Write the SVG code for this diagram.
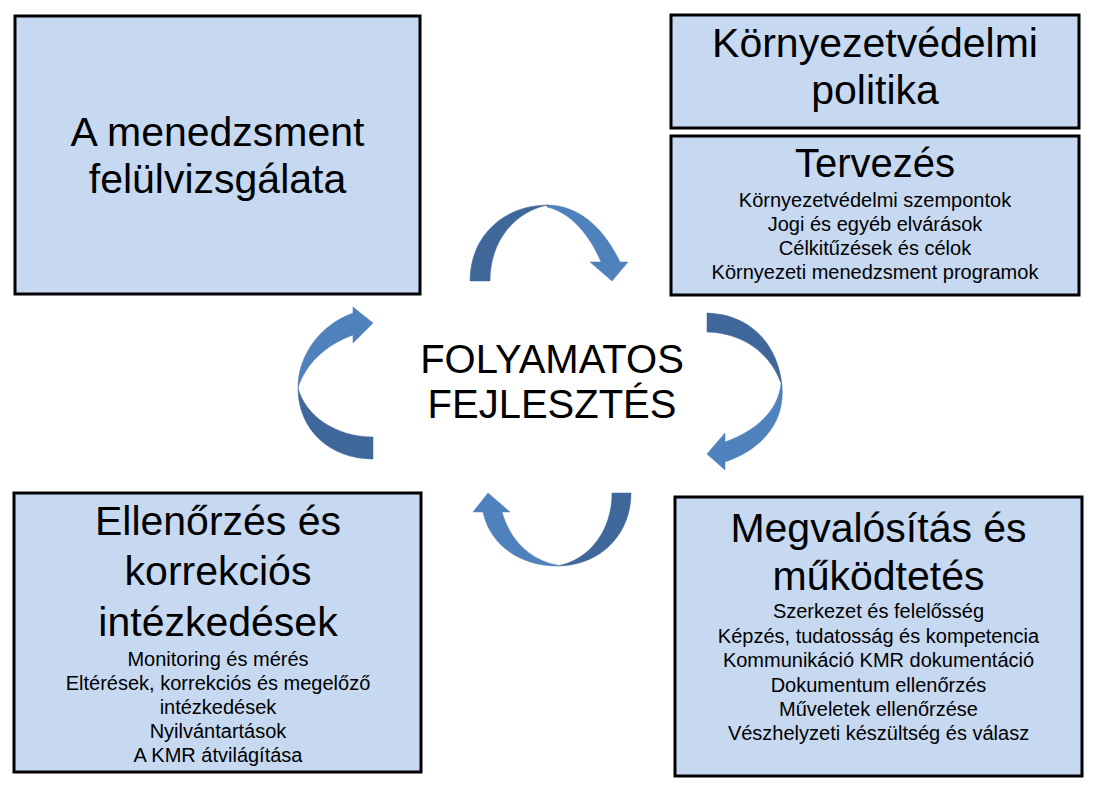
<svg xmlns="http://www.w3.org/2000/svg" width="1098" height="791" viewBox="0 0 1098 791">
<style>
.box{fill:#c6d9f1;stroke:#000;stroke-width:3}
.big{font-family:"Liberation Sans",Arial,sans-serif;font-size:41px;fill:#000;text-anchor:middle}
.sm{font-family:"Liberation Sans",Arial,sans-serif;font-size:20px;fill:#000;text-anchor:middle}
.dk{fill:#3f679a;stroke:#3f679a;stroke-width:0.5}
.lt{fill:#4f81bd;stroke:#4a7ab3;stroke-width:0.5}
</style>
<rect width="1098" height="791" fill="#fff"/>
<g id="review">
<rect class="box" x="15" y="16" width="405" height="278"/>
<text class="big" x="217.5" y="146">A menedzsment</text>
<text class="big" x="217.5" y="193">felülvizsgálata</text>
</g>
<g id="policy">
<rect class="box" x="671" y="15" width="408" height="113"/>
<text class="big" x="875" y="57">Környezetvédelmi</text>
<text class="big" x="875" y="104">politika</text>
</g>
<g id="planning">
<rect class="box" x="671" y="136" width="408" height="159"/>
<text class="big" x="875" y="177" style="font-size:40px">Tervezés</text>
<text class="sm" x="875" y="207">Környezetvédelmi szempontok</text>
<text class="sm" x="875" y="231">Jogi és egyéb elvárások</text>
<text class="sm" x="875" y="255">Célkitűzések és célok</text>
<text class="sm" x="875" y="279">Környezeti menedzsment programok</text>
</g>
<g id="checking">
<rect class="box" x="14" y="493" width="407" height="279"/>
<text class="big" x="218" y="535">Ellenőrzés és</text>
<text class="big" x="218" y="585">korrekciós</text>
<text class="big" x="218" y="636">intézkedések</text>
<text class="sm" x="218" y="666">Monitoring és mérés</text>
<text class="sm" x="218" y="690">Eltérések, korrekciós és megelőző</text>
<text class="sm" x="218" y="714">intézkedések</text>
<text class="sm" x="218" y="738">Nyilvántartások</text>
<text class="sm" x="218" y="762">A KMR átvilágítása</text>
</g>
<g id="implementation">
<rect class="box" x="675" y="497" width="407" height="279"/>
<text class="big" x="878.5" y="542">Megvalósítás és</text>
<text class="big" x="878.5" y="590">működtetés</text>
<text class="sm" x="878.5" y="618">Szerkezet és felelősség</text>
<text class="sm" x="878.5" y="643">Képzés, tudatosság és kompetencia</text>
<text class="sm" x="878.5" y="667">Kommunikáció KMR dokumentáció</text>
<text class="sm" x="878.5" y="692">Dokumentum ellenőrzés</text>
<text class="sm" x="878.5" y="716">Műveletek ellenőrzése</text>
<text class="sm" x="878.5" y="740">Vészhelyzeti készültség és válasz</text>
</g>
<g id="center">
<text class="big" x="552" y="373" style="font-size:40px">FOLYAMATOS</text>
<text class="big" x="552" y="418" style="font-size:40px">FEJLESZTÉS</text>
</g>
<g id="connectors">
<path class="dk" d="M470,281 C470,235 505,205 548,205 C516,211 490,240 490,281 Z"/>
<path class="lt" d="M547,205 C580,205 605,230 620,262 L628,262 L612,281 L590,262 L601,262 C590,235 570,212 547,207 Z"/>
<path class="dk" d="M707,313 C748,314 778,342 782,386 C772,355 745,333 707,332 Z"/>
<path class="lt" d="M782,386 C785,420 765,448 725,462 L725,470 L707,454 L725,433 L725,442 C758,430 778,410 781,384 Z"/>
<path class="dk" d="M631,493 C631,535 600,566 557,566 C590,560 612,530 612,493 Z"/>
<path class="lt" d="M557,566 C520,566 490,545 483,512 L473,512 L488,493 L510,512 L502,512 C510,540 530,560 557,565 Z"/>
<path class="dk" d="M373,459 C330,459 298,430 298,388 C305,415 335,437 373,437 Z"/>
<path class="lt" d="M298,388 C298,355 320,325 353,313 L353,307 L373,323 L353,343 L353,335 C325,345 305,365 298,388 Z"/>
</g>
</svg>
